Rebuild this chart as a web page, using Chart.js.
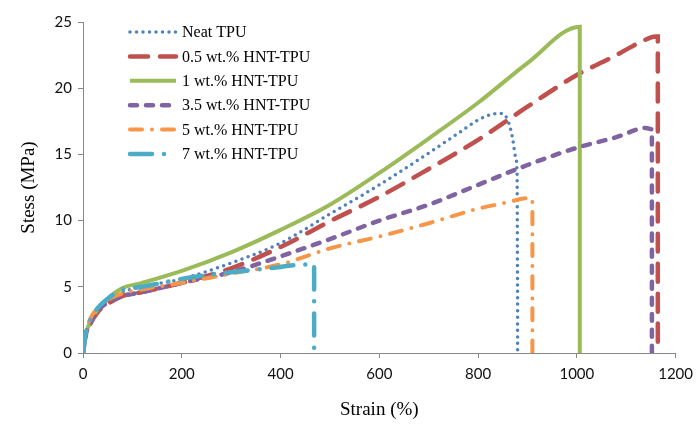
<!DOCTYPE html>
<html>
<head>
<meta charset="utf-8">
<script src="https://cdn.jsdelivr.net/npm/chart.js@4.4.1/dist/chart.umd.min.js"></script>
<style>
    body { margin: 0; background: #fff; }
    #wrap { width: 700px; height: 432px; }
</style>
</head>
<body>
<div id="wrap"><canvas id="stressChart" width="700" height="432"></canvas></div>
<script>
// series names
const seriesNames = ['Neat TPU', '0.5 wt.% HNT-TPU', '1 wt.% HNT-TPU', '3.5 wt.% HNT-TPU', '5 wt.% HNT-TPU', '7 wt.% HNT-TPU'];

// strain (%) / stress (MPa)
const neatStrain = [0, 5, 15, 30, 50, 80, 120, 200, 300, 400, 500, 600, 700, 760, 800, 830, 845, 860, 870, 876, 879, 880, 880];
const neatStress = [0, 1.3, 2.4, 3.3, 4.0, 4.6, 5.0, 5.6, 6.8, 8.3, 10.5, 12.7, 15.1, 16.6, 17.6, 18.05, 18.1, 17.6, 16.2, 14.8, 13.5, 5, 0];

const hnt05Strain = [0, 5, 15, 30, 50, 80, 120, 200, 300, 400, 500, 600, 700, 800, 900, 1000, 1070, 1130, 1160, 1164, 1164];
const hnt05Stress = [0, 1.2, 2.2, 3.1, 3.7, 4.3, 4.6, 5.3, 6.4, 8.0, 9.95, 11.8, 13.9, 16.1, 18.6, 21.0, 22.3, 23.5, 23.9, 23.9, 0];

const hnt1Strain = [0, 5, 15, 30, 50, 80, 120, 200, 300, 400, 500, 600, 700, 800, 900, 1006, 1006];
const hnt1Stress = [0, 1.3, 2.4, 3.3, 4.1, 4.9, 5.3, 6.2, 7.6, 9.3, 11.2, 13.6, 16.2, 18.9, 21.9, 24.65, 0];

const hnt35Strain = [0, 5, 15, 30, 50, 80, 120, 200, 300, 400, 500, 600, 700, 800, 900, 1000, 1080, 1140, 1152, 1152];
const hnt35Stress = [0, 1.3, 2.3, 3.2, 3.8, 4.3, 4.6, 5.3, 6.1, 7.3, 8.6, 10.0, 11.2, 12.7, 14.2, 15.5, 16.3, 17.0, 16.9, 0];

const hnt5Strain = [0, 5, 15, 30, 50, 80, 120, 200, 300, 400, 500, 600, 700, 800, 850, 905, 910, 910];
const hnt5Stress = [0, 1.5, 2.6, 3.4, 4.0, 4.5, 4.8, 5.3, 6.0, 6.7, 7.9, 8.8, 9.8, 10.9, 11.3, 11.7, 11.6, 0];

const hnt7Strain = [0, 5, 15, 30, 50, 80, 120, 200, 300, 400, 430, 468, 468];
const hnt7Stress = [0, 1.4, 2.5, 3.4, 4.1, 4.8, 5.0, 5.6, 6.1, 6.5, 6.65, 6.7, 0];

// axis ticks
const xTicks = [0, 200, 400, 600, 800, 1000, 1200];
const yTicks = [0, 5, 10, 15, 20, 25];

function toPoints(xs, ys) {
    return xs.map((x, i) => ({ x: x, y: ys[i] }));
}

// legend drawn inside the plot, like the original
const insideLegend = {
    id: 'insideLegend',
    afterDraw(chart) {
        let ctx = chart.ctx;
        ctx.save();
        chart.data.datasets.forEach((ds, i) => {
            let y = 32 + i * 24.4;
            ctx.beginPath();
            ctx.strokeStyle = ds.borderColor;
            ctx.lineWidth = ds.borderWidth;
            ctx.lineCap = ds.borderCapStyle || 'butt';
            ctx.setLineDash(ds.borderDash || []);
            ctx.moveTo(130, y);
            ctx.lineTo(176, y);
            ctx.stroke();
            ctx.setLineDash([]);
            ctx.fillStyle = '#000';
            ctx.font = '16px "Liberation Serif"';
            ctx.textBaseline = 'middle';
            ctx.fillText(ds.label, 182, y + 1);
        });
        ctx.restore();
    }
};

const axisGrey = '#878787';
const tickFont = { family: 'Lato', size: 15 };

new Chart(document.getElementById('stressChart'), {
    type: 'line',
    data: {
        datasets: [
            {
                label: seriesNames[0], data: toPoints(neatStrain, neatStress),
                borderColor: '#4f81bd', borderWidth: 3.5, borderDash: [0, 6.5], borderCapStyle: 'round', order: 6
            },
            {
                label: seriesNames[1], data: toPoints(hnt05Strain, hnt05Stress),
                borderColor: '#c0504d', borderWidth: 4.5, borderDash: [18, 12], borderCapStyle: 'round', order: 5
            },
            {
                label: seriesNames[2], data: toPoints(hnt1Strain, hnt1Stress),
                borderColor: '#9bbb59', borderWidth: 4, borderDash: [], borderCapStyle: 'butt', order: 4
            },
            {
                label: seriesNames[3], data: toPoints(hnt35Strain, hnt35Stress),
                borderColor: '#8064a2', borderWidth: 4.5, borderDash: [7, 9], borderCapStyle: 'round', order: 3
            },
            {
                label: seriesNames[4], data: toPoints(hnt5Strain, hnt5Stress),
                borderColor: '#f79646', borderWidth: 4, borderDash: [12, 10, 0, 10], borderCapStyle: 'round', order: 2
            },
            {
                label: seriesNames[5], data: toPoints(hnt7Strain, hnt7Stress),
                borderColor: '#4bacc6', borderWidth: 4.5, borderDash: [22, 12, 0, 12], borderCapStyle: 'round', order: 1
            }
        ]
    },
    options: {
        responsive: false,
        animation: false,
        cubicInterpolationMode: 'monotone',
        pointRadius: 0,
        pointHoverRadius: 0,
        layout: { padding: { left: 0, right: 22, top: 22, bottom: 0 } },
        plugins: {
            legend: { display: false },
            tooltip: { enabled: false }
        },
        scales: {
            x: {
                type: 'linear',
                min: 0, max: 1200,
                afterBuildTicks: (scale) => { scale.ticks = xTicks.map(v => ({ value: v })); },
                afterFit: (scale) => { scale.height = 79; },
                ticks: { font: tickFont, color: '#111', padding: 7, maxRotation: 0, callback: (v) => String(v) },
                grid: { drawOnChartArea: false, color: axisGrey, tickLength: 5, tickColor: axisGrey },
                border: { color: axisGrey, width: 1 },
                title: {
                    display: true, text: 'Strain (%)', color: '#000',
                    font: { family: 'Liberation Serif', size: 19 },
                    padding: { top: 11, bottom: 11 }
                }
            },
            y: {
                min: 0, max: 25,
                afterBuildTicks: (scale) => { scale.ticks = yTicks.map(v => ({ value: v })); },
                afterFit: (scale) => { scale.width = 83; },
                ticks: { font: tickFont, color: '#111', padding: 6, callback: (v) => String(v) },
                grid: { drawOnChartArea: false, color: axisGrey, tickLength: 5, tickColor: axisGrey },
                border: { color: axisGrey, width: 1 },
                title: {
                    display: true, text: 'Stess (MPa)', color: '#000',
                    font: { family: 'Liberation Serif', size: 19 },
                    padding: { top: 18, bottom: 18 }
                }
            }
        }
    },
    plugins: [insideLegend]
});
</script>
</body>
</html>
